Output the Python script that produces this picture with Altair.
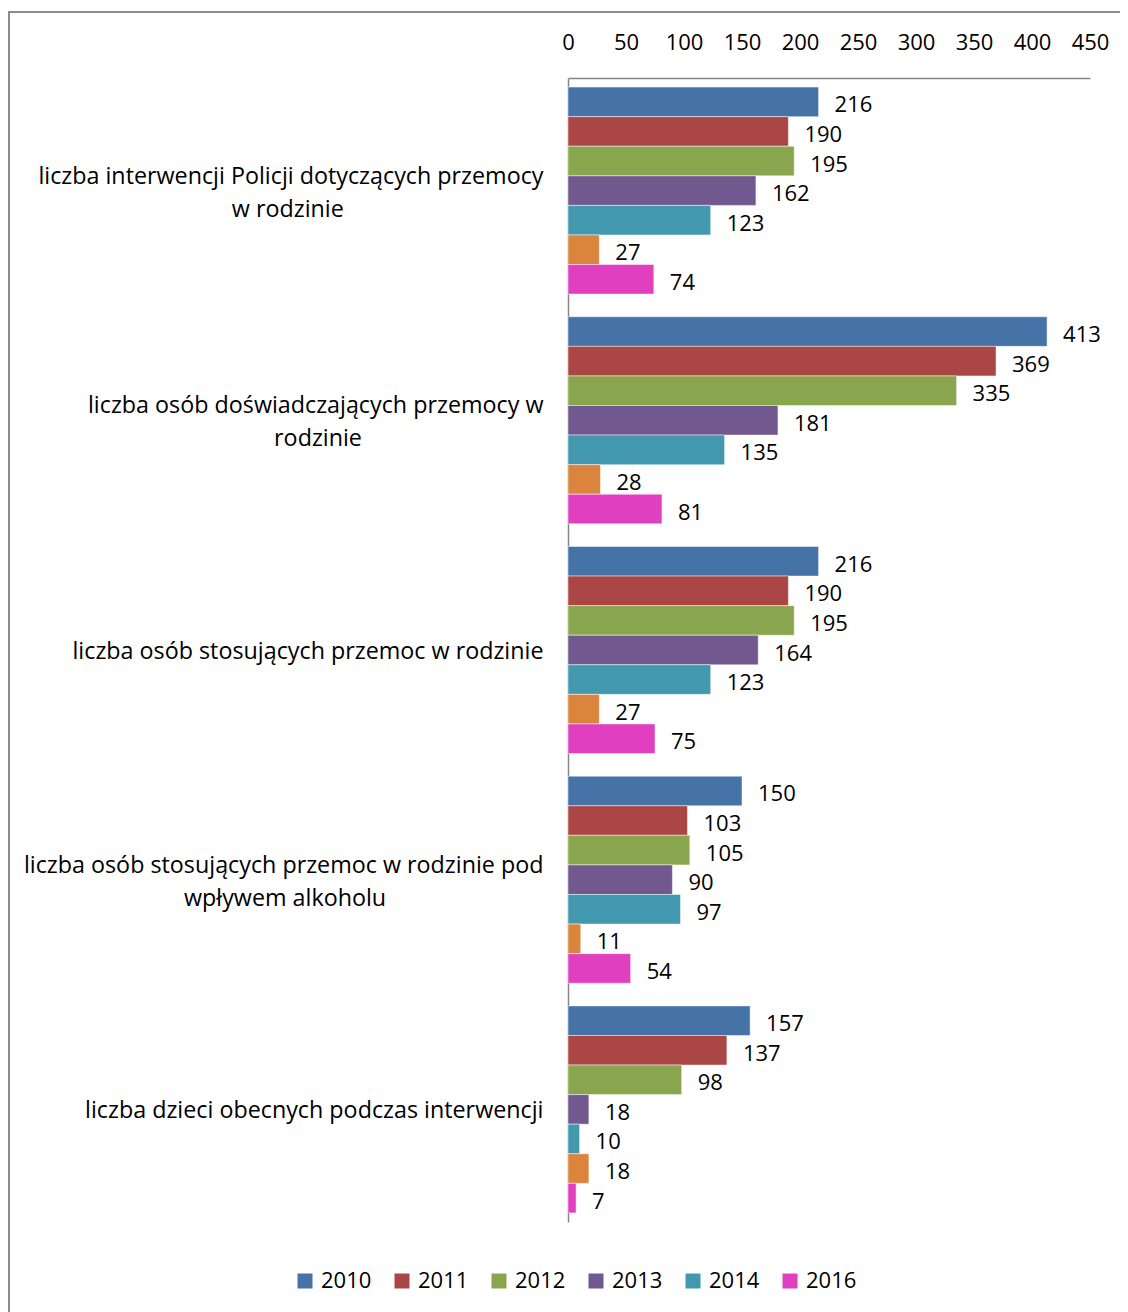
import altair as alt
import pandas as pd

categories = [
    "liczba interwencji Policji dotyczących przemocy|w rodzinie",
    "liczba osób doświadczających przemocy w|rodzinie",
    "liczba osób stosujących przemoc w rodzinie",
    "liczba osób stosujących przemoc w rodzinie pod|wpływem alkoholu",
    "liczba dzieci obecnych podczas interwencji",
]
years = ["2010", "2011", "2012", "2013", "2014", "2015", "2016"]
v2010 = [216, 413, 216, 150, 157]
v2011 = [190, 369, 190, 103, 137]
v2012 = [195, 335, 195, 105, 98]
v2013 = [162, 181, 164, 90, 18]
v2014 = [123, 135, 123, 97, 10]
v2015 = [27, 28, 27, 11, 18]
v2016 = [74, 81, 75, 54, 7]
colors = ["#4572A7", "#AA4643", "#89A54E", "#71588F", "#4198AF", "#DB843D", "#E040C0"]
legend_years = ["2010", "2011", "2012", "2013", "2014", "2016"]
x_ticks = [0, 50, 100, 150, 200, 250, 300, 350, 400, 450]

series = [v2010, v2011, v2012, v2013, v2014, v2015, v2016]
rows = []
for yr, vals in zip(years, series):
    for cat, v in zip(categories, vals):
        rows.append({"category": cat, "year": yr, "value": v})
df = pd.DataFrame(rows)

FONT = "Open Sans"
FS = 22
CAT_FS = 23.3

# second lines of wrapped labels are centred under the first line:
# pad them on the right with no-break spaces (labels are right aligned),
# closed by a zero-width space so the padding is not trimmed
NBSP = "\u00a0"
ZW = "\u200b"
pad_expr = (
    "split(datum.label, '|').length > 1 ? "
    "[split(datum.label, '|')[0], split(datum.label, '|')[1] + "
    "(indexof(datum.label, 'Policji') >= 0 ? '" + NBSP * 33 + ZW + "' : "
    "indexof(datum.label, 'alkoholu') >= 0 ? '" + NBSP * 26 + ZW + "' : '" + NBSP * 30 + ZW + "')] "
    ": datum.label"
)

y_enc = alt.Y(
    "category:N",
    sort=categories,
    scale=alt.Scale(paddingInner=0.0988, paddingOuter=0.0396),
    axis=alt.Axis(
        title=None,
        ticks=False,
        domainColor="#868686",
        domainWidth=1.5,
        labelExpr=pad_expr,
        labelAlign="right",
        labelBaseline="middle",
        labelOffset={"condition": {"test": "indexof(datum.label, '|') >= 0", "value": -14}, "value": 2},
        labelPadding=25,
        labelFontSize=CAT_FS,
        labelFont=FONT,
        labelColor="black",
        labelLineHeight=33,
        labelLimit=700,
    ),
)
yoff = alt.YOffset("year:N", sort=years, scale=alt.Scale(paddingInner=0, paddingOuter=0))
x_enc = alt.X(
    "value:Q",
    scale=alt.Scale(domain=[0, 450], nice=False),
    axis=alt.Axis(
        orient="top",
        title=None,
        values=x_ticks,
        grid=False,
        ticks=False,
        domainColor="#868686",
        domainWidth=1.5,
        labelFontSize=FS,
        labelFont=FONT,
        labelColor="black",
        labelPadding=24,
        labelFlush=False,
    ),
)

base = alt.Chart(df)
bars = base.mark_bar(stroke="white", strokeWidth=0.8, strokeOpacity=0.6).encode(
    x=x_enc,
    y=y_enc,
    yOffset=yoff,
    color=alt.Color(
        "year:N",
        scale=alt.Scale(domain=years, range=colors),
        legend=alt.Legend(
            values=legend_years,
            orient="none",
            direction="horizontal",
            legendX=-274,
            legendY=1192,
            title=None,
            symbolType="square",
            symbolSize=225,
            symbolStrokeWidth=0,
            labelFontSize=FS,
            labelFont=FONT,
            labelColor="black",
            labelOffset=5,
            columnPadding=19,
        ),
    ),
)
labels = base.mark_text(align="left", baseline="middle", dx=16, dy=3.5, fontSize=FS, font=FONT, color="black").encode(
    x="value:Q",
    y=alt.Y("category:N", sort=categories),
    yOffset=alt.YOffset("year:N", sort=years),
    text="value:Q",
)

frame_df = pd.DataFrame({"a": [0]})
frame_left = alt.Chart(frame_df).mark_rule(color="#8c8c8c", strokeWidth=2).encode(
    x=alt.value(-559), y=alt.value(-66), y2=alt.value(1300)
)
frame_top = alt.Chart(frame_df).mark_rule(color="#8c8c8c", strokeWidth=2).encode(
    x=alt.value(-560), x2=alt.value(600), y=alt.value(-66)
)

chart = alt.layer(bars, labels, frame_left, frame_top).properties(
    width=522,
    height=1144,
    autosize=alt.AutoSizeParams(type="none"),
    padding={"left": 560, "top": 70, "right": 30, "bottom": 90},
).configure_view(stroke=None)

chart.save("out.html", embed_options={"renderer": "svg", "actions": False})
